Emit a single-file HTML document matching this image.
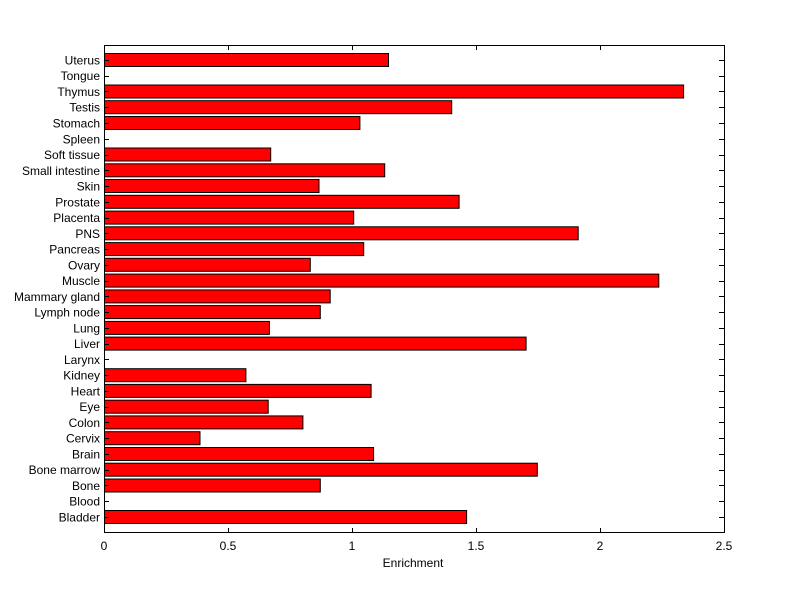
<!DOCTYPE html>
<html><head><meta charset="utf-8"><style>body{margin:0;background:#fff}svg{display:block}</style></head>
<body>
<svg id="s" width="800" height="599" xmlns="http://www.w3.org/2000/svg" font-family="Liberation Sans, sans-serif" font-size="12">
<rect x="0" y="0" width="800" height="599" fill="#fff"/>
<g id="g"></g>
<rect x="104.5" y="45.5" width="620" height="487" fill="none" stroke="#000"/>
<g text-anchor="middle">
<text x="104" y="550">0</text><text x="228" y="550">0.5</text><text x="352" y="550">1</text><text x="476" y="550">1.5</text><text x="600" y="550">2</text><text x="724" y="550">2.5</text>
<text x="413" y="567">Enrichment</text>
</g>
<g stroke="#000">
<line x1="228.5" y1="533" x2="228.5" y2="528"/><line x1="352.5" y1="533" x2="352.5" y2="528"/><line x1="476.5" y1="533" x2="476.5" y2="528"/><line x1="600.5" y1="533" x2="600.5" y2="528"/>
<line x1="228.5" y1="45" x2="228.5" y2="50"/><line x1="352.5" y1="45" x2="352.5" y2="50"/><line x1="476.5" y1="45" x2="476.5" y2="50"/><line x1="600.5" y1="45" x2="600.5" y2="50"/>
</g>
</svg>
<script>
var d=[["Bladder",1.46],["Blood",0],["Bone",0.87],["Bone marrow",1.745],["Brain",1.085],["Cervix",0.385],["Colon",0.8],["Eye",0.66],["Heart",1.075],["Kidney",0.57],["Larynx",0],["Liver",1.7],["Lung",0.665],["Lymph node",0.87],["Mammary gland",0.91],["Muscle",2.235],["Ovary",0.83],["Pancreas",1.045],["PNS",1.91],["Placenta",1.005],["Prostate",1.43],["Skin",0.865],["Small intestine",1.13],["Soft tissue",0.67],["Spleen",0],["Stomach",1.03],["Testis",1.4],["Thymus",2.335],["Tongue",0],["Uterus",1.145]];
var h='';
d.forEach(function(e,i){var c=517-i*15.76;var w=e[1]*248;
if(w>0)h+='<rect x="104.5" y="'+(c-6.5).toFixed(1)+'" width="'+w.toFixed(1)+'" height="13" fill="#f00" stroke="#000"/>';
var yy=Math.round(c)+0.5;
h+='<line x1="104" y1="'+yy+'" x2="109" y2="'+yy+'" stroke="#000"/><line x1="719" y1="'+yy+'" x2="724" y2="'+yy+'" stroke="#000"/>';
h+='<text x="100" y="'+(c+4.5).toFixed(1)+'" text-anchor="end">'+e[0]+'</text>';});
document.getElementById('g').innerHTML=h;
</script>
</body></html>
